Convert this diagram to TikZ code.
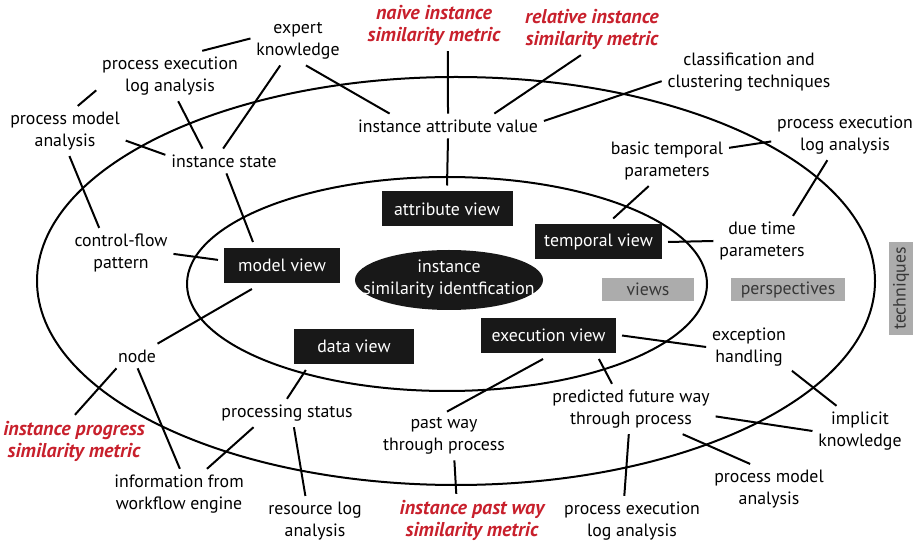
\documentclass[tikz,border=0pt]{standalone}
\usepackage{fontspec}
\setmainfont{PT Sans}
\usepackage{xcolor}
\usepackage{tikz}
\usetikzlibrary{positioning,shapes}
\definecolor{metricred}{RGB}{200,32,44}
\definecolor{boxblack}{RGB}{24,24,24}
\definecolor{tagfill}{RGB}{172,172,172}
\definecolor{tagtext}{RGB}{55,55,55}

\begin{document}
\begin{tikzpicture}
  [x=0.5pt,y=-0.5pt,line width=1pt,
   label node/.style={align=center,inner sep=0pt,outer sep=3pt,font=\fontsize{8.9}{11}\selectfont},
   metric node/.style={label node,text=metricred,font=\fontsize{10}{11}\selectfont\bfseries\itshape},
   view node/.style={fill=boxblack,text=white,inner sep=0pt,outer sep=3pt,minimum height=17.5pt,font=\fontsize{8.9}{11}\selectfont},
   tag node/.style={fill=tagfill,text=tagtext,inner sep=0pt,minimum height=11.5pt,font=\fontsize{8.9}{11}\selectfont}]
  \useasboundingbox (0,0) rectangle (919,544);

  % perspectives and views
  \draw (456,281) ellipse [x radius=419, y radius=204];
  \draw (447,284) ellipse [x radius=260, y radius=107];
  \fill[boxblack] (449,280) ellipse [x radius=94, y radius=30];
  \node[label node,text=white] (core) at (449,279) {instance\\similarity identfication};

  \node[view node,minimum width=65.5pt] (attribute) at (447,209) {attribute view};
  \node[view node,minimum width=58pt] (model) at (282,265.5) {model view};
  \node[view node,minimum width=63.5pt] (temporal) at (598.5,242) {temporal view};
  \node[view node,minimum width=60pt] (data) at (354,346.5) {data view};
  \node[view node,minimum width=67.5pt] (execution) at (548.5,335.5) {execution view};

  \node[tag node,minimum width=46pt] (views) at (648,289.5) {views};
  \node[tag node,minimum width=57pt] (perspectives) at (788,289.5) {perspectives};
  \node[tag node,minimum width=46.5pt,minimum height=12pt,rotate=90] (techniques) at (901,288.5) {techniques};

  % techniques and metrics
  \node[metric node] (naive) at (434,25) {naive instance\\similarity metric};
  \node[metric node] (relative) at (592,29) {relative instance\\similarity metric};
  \node[label node] (expert) at (298,41) {expert\\knowledge};
  \node[label node] (pelA) at (170,76) {process execution\\log analysis};
  \node[label node] (pmaA) at (65,131) {process model\\analysis};
  \node[label node] (state) at (224,161) {instance state};
  \node[label node] (value) at (448,126) {instance attribute value};
  \node[label node] (classify) at (749,72) {classification and\\clustering techniques};
  \node[label node] (pelB) at (845,135) {process execution\\log analysis};
  \node[label node] (basic) at (667,161) {basic temporal\\parameters};
  \node[label node] (due) at (762,241) {due time\\parameters};
  \node[label node] (flow) at (121,253) {control-flow\\pattern};
  \node[label node] (graphnode) at (137,356) {node};
  \node[metric node] (progress) at (74,441) {instance progress\\similarity metric};
  \node[label node] (engine) at (179,494) {information from\\workflow engine};
  \node[label node] (status) at (287,413) {processing status};
  \node[label node] (resource) at (315,521) {resource log\\analysis};
  \node[label node] (past) at (444,436) {past way\\through process};
  \node[metric node] (pastmetric) at (472,520) {instance past way\\similarity metric};
  \node[label node] (future) at (631,409) {predicted future way\\through process};
  \node[label node] (pelC) at (632,521) {process execution\\log analysis};
  \node[label node] (exception) at (749,347) {exception\\handling};
  \node[label node] (implicit) at (860,431) {implicit\\knowledge};
  \node[label node] (pmaB) at (769,489) {process model\\analysis};

  % connectors
  \foreach \from/\to in {pelA.38/expert.177, pmaA.63/pelA.191, pelA.288/state.150,
      expert.234/state.94, expert.288/value.168, pmaA.351/state.174, pmaA.280/flow.131,
      state.281/model.141, flow.359/model.175, naive.298/value.north,
      value.south/attribute.north, relative.247/value.15, classify.186/value.3,
      basic.12/pelB.185, pelB.235/due.39, basic.234/temporal.58, temporal.east/due.west,
      model.218/graphnode.31, graphnode.211/progress.88, graphnode.273/engine.88,
      data.206/status.90, status.203/engine.42, status.296/resource.111,
      past.293/pastmetric.121, past.83/execution.257, execution.east/exception.west,
      execution.335/future.127, exception.331/implicit.133, future.355/implicit.west,
      future.334/pmaB.127, future.265/pelC.107}
    \draw (\from) -- (\to);
\end{tikzpicture}
\end{document}
